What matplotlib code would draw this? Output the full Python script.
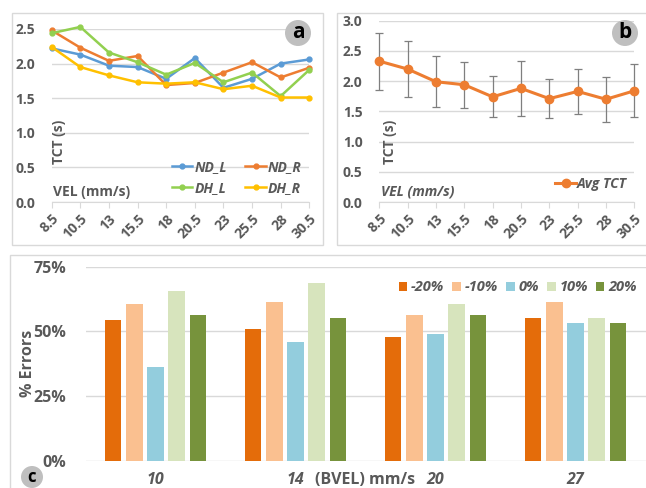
import matplotlib.pyplot as plt
import numpy as np
from matplotlib.patches import Rectangle

plt.rcParams['font.family'] = ['Open Sans', 'DejaVu Sans']
plt.rcParams['font.weight'] = 'bold'

vel = ['8.5', '10.5', '13', '15.5', '18', '20.5', '23', '25.5', '28', '30.5']
nd_l = [2.22, 2.13, 1.97, 1.95, 1.78, 2.08, 1.65, 1.78, 2.00, 2.06]
nd_r = [2.48, 2.23, 2.04, 2.11, 1.69, 1.72, 1.87, 2.02, 1.80, 1.94]
dh_l = [2.44, 2.53, 2.16, 2.02, 1.84, 2.01, 1.73, 1.87, 1.53, 1.91]
dh_r = [2.24, 1.95, 1.83, 1.73, 1.71, 1.73, 1.63, 1.68, 1.51, 1.51]

avg_tct = [2.33, 2.20, 1.99, 1.94, 1.74, 1.88, 1.71, 1.83, 1.70, 1.84]
avg_err = [0.47, 0.47, 0.42, 0.38, 0.34, 0.45, 0.32, 0.37, 0.37, 0.44]

bvel = ['10', '14', '20', '27']
err_labels = ['-20%', '-10%', '0%', '10%', '20%']
err_vals = [
    [54.3, 50.9, 47.8, 55.1],
    [60.6, 61.4, 56.2, 61.4],
    [36.3, 45.8, 48.8, 53.1],
    [65.7, 68.6, 60.5, 55.1],
    [56.3, 55.1, 56.2, 53.1],
]

txt = '#595959'
grid = '#D9D9D9'
W, H = 646, 488
fs_ab = 10
fs_c = 11.5

fig = plt.figure(figsize=(W / 100, H / 100), dpi=100)


def fbox(x0, y0, x1, y1):
    # pixel box (top-left origin) -> figure fraction
    return [x0 / W, 1 - y1 / H, (x1 - x0) / W, (y1 - y0) / H]


# panel frames
for x0, y0, x1, y1 in [(11.5, 12.5, 323, 245), (336.5, 12.5, 660, 245), (10, 255, 660, 500)]:
    fig.patches.append(Rectangle((x0 / W, 1 - y1 / H), (x1 - x0) / W, (y1 - y0) / H,
                                 transform=fig.transFigure, fc='none', ec=grid, lw=1))


def style_line_ax(ax, ymax, step):
    ax.set_xlim(0, 9)
    ax.set_ylim(0, ymax)
    ax.set_yticks(np.arange(0, ymax + 0.01, step))
    ax.yaxis.set_major_formatter(plt.FormatStrFormatter('%.1f'))
    ax.set_xticks(range(len(vel)))
    ax.set_xticklabels(vel, rotation=45, ha='right', rotation_mode='anchor')
    ax.grid(axis='y', color=grid, lw=1)
    ax.set_axisbelow(True)
    for s in ['top', 'right', 'left']:
        ax.spines[s].set_visible(False)
    ax.spines['bottom'].set_color(grid)
    ax.tick_params(axis='x', colors=grid, length=4, labelcolor=txt, labelsize=fs_ab, pad=3)
    ax.tick_params(axis='y', length=0, labelcolor=txt, labelsize=fs_ab, pad=12)


# panel a
ax1 = fig.add_axes(fbox(51.7, 29, 309.3, 202))
x = np.arange(len(vel))
lines = {}
for ys, c, lab in [(nd_l, '#5B9BD5', 'ND_L'), (nd_r, '#ED7D31', 'ND_R'),
                   (dh_l, '#92D050', 'DH_L'), (dh_r, '#FFC000', 'DH_R')]:
    lines[lab], = ax1.plot(x, ys, color=c, lw=1.8, marker='o', ms=3.5, label=lab, clip_on=False)
style_line_ax(ax1, 2.5, 0.5)
ax1.text(0.0, 0.35, 'TCT (s)', transform=ax1.transAxes, rotation=90,
         color=txt, fontsize=fs_ab, ha='left', va='center')
ax1.text(0.005, 0.06, 'VEL (mm/s)', transform=ax1.transAxes,
         color=txt, fontsize=fs_ab, ha='left', va='center')
order = ['ND_L', 'DH_L', 'ND_R', 'DH_R']
ax1.legend([lines[k] for k in order], order, ncol=2, loc='lower right',
           bbox_to_anchor=(1.02, -0.03), frameon=False,
           prop={'style': 'italic', 'weight': 'bold', 'size': fs_ab},
           labelcolor=txt, handlelength=1.5, handletextpad=0.15,
           columnspacing=1.3, labelspacing=0.5)

# panel b
ax2 = fig.add_axes(fbox(379.3, 20.7, 634.3, 202))
ax2.errorbar(x, avg_tct, yerr=avg_err, color='#ED7D31', lw=2.2, marker='o', ms=6,
             ecolor='#7F7F7F', elinewidth=0.9, capsize=3, capthick=0.9,
             label='Avg TCT', clip_on=False)
style_line_ax(ax2, 3.0, 0.5)
ax2.text(0.015, 0.33, 'TCT (s)', transform=ax2.transAxes, rotation=90,
         color=txt, fontsize=fs_ab, ha='left', va='center')
ax2.text(0.005, 0.06, 'VEL (mm/s)', transform=ax2.transAxes, style='italic',
         color=txt, fontsize=fs_ab, ha='left', va='center')
h, l = ax2.get_legend_handles_labels()
ax2.legend([h[0][0]], l, loc='lower right', bbox_to_anchor=(1.02, -0.01), frameon=False,
           prop={'style': 'italic', 'weight': 'bold', 'size': fs_ab},
           labelcolor=txt, handlelength=1.5, handletextpad=0.05)

# panel c
ax3 = fig.add_axes(fbox(85.5, 266.7, 645.5, 460.7))
colors = ['#E46C0A', '#FAC090', '#93CDDD', '#D7E4BD', '#77933C']
xc = np.arange(len(bvel))
for i, (vals, c, lab) in enumerate(zip(err_vals, colors, err_labels)):
    ax3.bar(xc + (i - 2) * 0.152, vals, width=0.12, color=c, label=lab)
ax3.set_xlim(-0.5, 3.5)
ax3.set_ylim(0, 75)
ax3.set_yticks([0, 25, 50, 75])
ax3.set_yticklabels(['0%', '25%', '50%', '75%'])
ax3.set_xticks(xc)
ax3.set_xticklabels(bvel, style='italic')
ax3.grid(axis='y', color=grid, lw=1)
ax3.set_axisbelow(True)
for s in ax3.spines.values():
    s.set_visible(False)
ax3.tick_params(axis='both', length=0, labelcolor=txt, labelsize=fs_c)
ax3.tick_params(axis='y', pad=14)
ax3.tick_params(axis='x', pad=8)
ax3.legend(ncol=5, loc='upper right', bbox_to_anchor=(1.005, 0.99), frameon=False,
           prop={'style': 'italic', 'weight': 'bold', 'size': 10.5},
           labelcolor=txt, handlelength=0.6, handleheight=0.6,
           handletextpad=0.25, columnspacing=0.55, borderpad=0.3)
fig.text(28 / W, 1 - 363 / H, '% Errors', rotation=90, color=txt, fontsize=fs_c,
         ha='center', va='center')
fig.text(365 / W, 1 - 480 / H, '(BVEL) mm/s', color=txt, fontsize=fs_c,
         ha='center', va='center')

# panel badges
for bx, by, letter, fs in [(298, 33, 'a', 15), (625, 33, 'b', 15), (32, 477, 'c', 12)]:
    fig.text(bx / W, 1 - by / H, letter, color='black', fontsize=fs, weight='bold',
             ha='center', va='center',
             bbox=dict(boxstyle='circle,pad=0.12', fc='#BFBFBF', ec='none'))

fig.savefig('out.png', dpi=100)
